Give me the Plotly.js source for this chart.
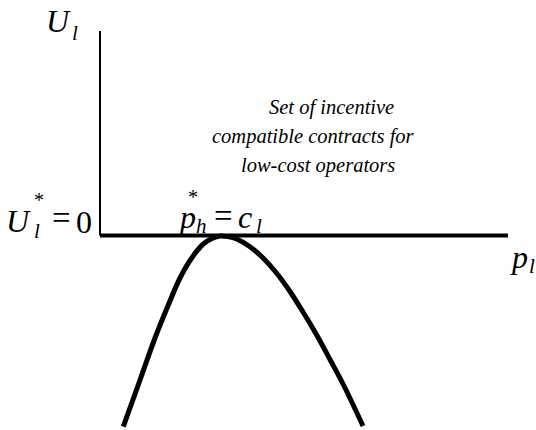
<!DOCTYPE html>
<html>
<head>
<meta charset="utf-8">
<script src="https://cdn.plot.ly/plotly-3.0.1.min.js"></script>
</head>
<body style="margin:0;background:#fff">
<div id="chart"></div>
<script>
// Axes (in chart units: origin at the corner of the two axes)
const yAxisLineX = [0, 0];
const yAxisLineY = [0, 2.045];
const xAxisLineX = [0, 4.08];
const xAxisLineY = [0, 0];

// Incentive-compatibility curve for low-cost operators (peak at p_h* = c_l)
const curveP = [0.233, 0.40, 0.55, 0.683, 0.80, 0.917, 1.033, 1.12, 1.20, 1.28, 1.367, 1.50, 1.633, 1.767, 1.90, 2.033, 2.167, 2.30, 2.433, 2.63];
const curveU = [-1.912, -1.445, -1.025, -0.695, -0.425, -0.225, -0.085, -0.03, -0.005, -0.011, -0.035, -0.112, -0.228, -0.378, -0.56, -0.77, -0.995, -1.24, -1.49, -1.905];

// Region label
const regionLines = ["Set of incentive", "compatible contracts for", "low-cost operators"];

// pixel -> data helpers (plot area spans full page, margins 0)
const X0 = -1.0, X1 = 4.36, Y0 = -1.945, Y1 = 2.355;
const dx = px => X0 + px / 536 * (X1 - X0);
const dy = py => Y1 - py / 430 * (Y1 - Y0);

const FAM = "'Liberation Serif', serif";
function glyph(txt, px, py, size, italic) {
  return {
    x: dx(px), y: dy(py), xref: 'x', yref: 'y',
    text: italic ? '<i>' + txt + '</i>' : txt,
    showarrow: false, xanchor: 'center', yanchor: 'middle',
    font: {family: FAM, size: size, color: '#000'}
  };
}

const annotations = [
  // U_l (vertical axis label)
  glyph('U', 58.5, 21.2, 32, true),
  glyph('l', 74.5, 32.9, 21, true),
  // U_l* = 0
  glyph('U', 18.5, 221.2, 32, true),
  glyph('*', 38.5, 199.6, 20, false),
  glyph('l', 36.5, 230.9, 21, true),
  glyph('=', 61.5, 218.2, 33, false),
  glyph('0', 83.5, 222.2, 32, false),
  // p_h* = c_l
  glyph('p', 187, 217.2, 32, true),
  glyph('*', 192.5, 196.6, 20, false),
  glyph('h', 201, 226.3, 21, true),
  glyph('=', 223, 216.2, 33, false),
  glyph('c', 244.5, 217.2, 32, true),
  glyph('l', 259, 225.5, 21, true),
  // p_l (horizontal axis label)
  glyph('p', 518.5, 257.2, 32, true),
  glyph('l', 531.5, 265.9, 21, true),
  // region text
  glyph(regionLines[0], 331, 107, 20.5, true),
  glyph(regionLines[1], 313, 136, 20.5, true),
  glyph(regionLines[2], 318, 165, 20.5, true)
];

const traces = [
  {x: yAxisLineX, y: yAxisLineY, mode: 'lines', line: {color: '#000', width: 2}, hoverinfo: 'skip'},
  {x: xAxisLineX, y: xAxisLineY, mode: 'lines', line: {color: '#000', width: 4}, hoverinfo: 'skip'},
  {x: curveP, y: curveU, mode: 'lines', line: {color: '#000', width: 5, shape: 'spline', smoothing: 1}, hoverinfo: 'skip'}
];

const layout = {
  width: 536, height: 430,
  margin: {l: 0, r: 0, t: 0, b: 0},
  font: {family: FAM, color: '#000'},
  paper_bgcolor: '#fff', plot_bgcolor: '#fff',
  showlegend: false,
  xaxis: {range: [X0, X1], visible: false, fixedrange: true},
  yaxis: {range: [Y0, Y1], visible: false, fixedrange: true},
  annotations: annotations
};

Plotly.newPlot('chart', traces, layout, {displayModeBar: false, staticPlot: true});
</script>
</body>
</html>
